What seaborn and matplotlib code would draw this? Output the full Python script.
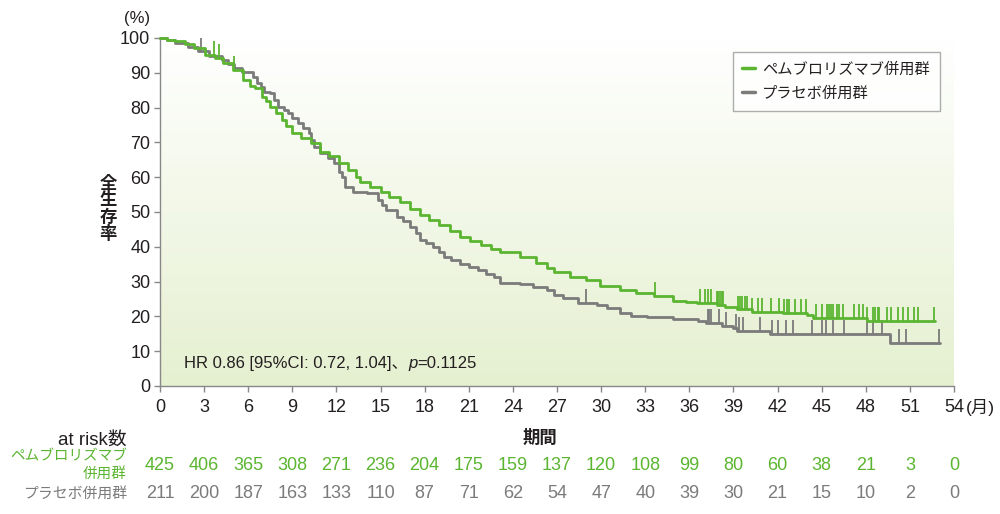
import numpy as np
import pandas as pd
import matplotlib
matplotlib.use("Agg")
import matplotlib.pyplot as plt
import seaborn as sns
from matplotlib.lines import Line2D
from matplotlib.colors import LinearSegmentedColormap
from matplotlib.transforms import blended_transform_factory

# ---------------- data ----------------
groups = ["ペムブロリズマブ併用群", "プラセボ併用群"]

pem_time = [0, 0.5, 1.0, 1.7, 2.3, 3.06, 3.74, 4.3, 4.97, 5.65, 6.1, 6.46, 6.94, 7.2, 7.48, 7.9,
            8.3, 8.6, 8.98, 9.6, 10.3, 10.9, 11.5, 12.2, 12.8, 13.3, 13.6, 14.3, 15.0, 15.6, 16.3,
            17.0, 17.7, 18.3, 19.0, 19.7, 20.4, 21.1, 21.8, 22.5, 23.1, 24.5, 25.6, 26.3, 26.8,
            27.9, 29.0, 29.9, 31.3, 32.4, 33.6, 34.9, 35.8, 36.5, 37.87, 38.44, 39.27, 40.25,
            42.4, 44.0, 44.44, 48.07, 52.7]
pem_surv = [100, 99.5, 99.0, 98.3, 97.0, 95.1, 94.2, 92.8, 90.8, 87.9, 86.2, 85.6, 83.0, 81.8, 80.2,
            78.5, 76.4, 74.8, 72.7, 71.3, 69.8, 67.3, 66.0, 64.0, 62.0, 60.1, 58.7, 57.3, 55.8,
            54.2, 53.0, 51.0, 49.1, 47.6, 46.3, 44.5, 42.9, 41.6, 40.5, 39.5, 38.6, 37.2, 35.3,
            34.0, 32.8, 31.4, 30.5, 28.7, 27.6, 26.6, 25.9, 24.5, 24.2, 23.9, 23.3, 22.6, 22.0,
            21.4, 20.9, 20.4, 19.6, 18.7, 18.7]

pbo_time = [0, 0.5, 1.0, 1.9, 2.6, 3.3, 4.2, 4.6, 5.0, 5.6, 6.3, 6.6, 6.85, 7.1, 7.5, 7.75, 8.0,
            8.4, 8.7, 9.0, 9.4, 9.75, 10.1, 10.3, 10.5, 10.9, 11.4, 11.8, 12.2, 12.4, 12.6, 13.1,
            14.1, 14.8, 15.1, 15.4, 16.1, 16.5, 17.0, 17.4, 17.7, 18.1, 18.6, 18.95, 19.3, 19.8,
            20.4, 21.0, 21.6, 22.2, 22.7, 23.1, 24.5, 25.4, 26.3, 26.8, 27.4, 28.4, 29.7, 30.4,
            31.3, 32.0, 33.1, 34.9, 36.6, 37.14, 38.19, 39.0, 39.23, 41.5, 49.66, 53.06]
pbo_surv = [100, 99.3, 98.5, 97.5, 96.4, 94.8, 93.7, 92.5, 91.4, 90.3, 88.9, 87.1, 85.9, 84.6, 84.2,
            82.3, 80.3, 79.3, 78.4, 77.0, 75.6, 74.0, 72.6, 70.8, 68.8, 67.0, 65.4, 64.0, 61.6,
            60.1, 57.3, 55.8, 55.4, 53.4, 52.0, 50.6, 48.7, 47.5, 45.8, 44.0, 42.0, 41.0, 40.0,
            38.6, 37.2, 36.2, 35.2, 34.3, 33.3, 32.3, 31.4, 29.7, 29.3, 28.5, 27.6, 26.1, 25.2,
            23.9, 23.3, 22.3, 21.1, 20.1, 19.7, 19.2, 18.7, 18.0, 17.2, 16.6, 15.8, 14.9, 12.3,
            12.3]

pem_cens = [3.67, 4.0, 5.0, 33.67, 36.73, 37.07, 37.3, 37.46, 37.87, 37.98, 38.1, 38.21, 38.32,
            39.3, 39.46, 39.61, 39.78, 39.91, 40.25, 40.64, 40.93, 41.54, 42.11, 42.45, 42.63,
            42.81, 43.2, 43.61, 43.95, 44.6, 45.01, 45.35, 45.51, 45.65, 45.8, 46.07, 46.21,
            46.48, 47.2, 47.55, 47.78, 48.07, 48.46, 48.64, 48.82, 48.93, 49.43, 49.73, 50.16,
            50.5, 50.84, 51.25, 51.52, 52.67]
pbo_cens = [2.8, 29.0, 37.26, 37.37, 37.48, 38.03, 38.48, 39.16, 39.41, 39.64, 40.82, 41.61,
            42.06, 42.59, 43.02, 44.33, 45.01, 45.29, 45.76, 46.55, 48.07, 48.48, 49.1, 50.27,
            50.75, 52.99]

xticks = list(range(0, 55, 3))
yticks = list(range(0, 101, 10))
pem_risk = [425, 406, 365, 308, 271, 236, 204, 175, 159, 137, 120, 108, 99, 80, 60, 38, 21, 3, 0]
pbo_risk = [211, 200, 187, 163, 133, 110, 87, 71, 62, 54, 47, 40, 39, 30, 21, 15, 10, 2, 0]

hr_text = "HR 0.86 [95%CI: 0.72, 1.04]、"
p_text = "=0.1125"

GREEN = "#5bb531"
GRAY = "#7b7b7b"
BLACK = "#231f20"

# ---------------- style ----------------
sns.set_style("ticks")
plt.rcParams["font.family"] = ["Liberation Sans", "Noto Sans CJK JP", "DejaVu Sans"]
plt.rcParams["axes.unicode_minus"] = False

fig = plt.figure(figsize=(10, 5.14), dpi=100)
ax = fig.add_axes([0.160, 1 - 386 / 514, 0.794, (386 - 38) / 514])

# background gradient
cmap = LinearSegmentedColormap.from_list("bg", ["#e5f0d0", "#ffffff"])
ax.imshow(np.linspace(0, 1, 256).reshape(-1, 1), cmap=cmap, extent=[0, 54, 0, 100],
          aspect="auto", origin="lower", zorder=0)

df = pd.concat([
    pd.DataFrame({"time": pem_time, "surv": pem_surv, "group": groups[0]}),
    pd.DataFrame({"time": pbo_time, "surv": pbo_surv, "group": groups[1]}),
])
sns.lineplot(data=df[df.group == groups[1]], x="time", y="surv", color=GRAY,
             drawstyle="steps-post", estimator=None, sort=False, linewidth=2.0,
             ax=ax, zorder=3, legend=False)
sns.lineplot(data=df[df.group == groups[0]], x="time", y="surv", color=GREEN,
             drawstyle="steps-post", estimator=None, sort=False, linewidth=2.0,
             ax=ax, zorder=4, legend=False)
for ln in ax.lines:
    ln.set_clip_on(False)


def step_val(times, survs, t):
    i = np.searchsorted(times, t, side="right") - 1
    return survs[max(i, 0)]


for cens, times, survs, col, z in [(pbo_cens, pbo_time, pbo_surv, GRAY, 3),
                                   (pem_cens, pem_time, pem_surv, GREEN, 4)]:
    ys = np.array([step_val(times, survs, c) for c in cens])
    ax.vlines(cens, ys, ys + 4.0, colors=col, linewidth=1.3, zorder=z)

ax.set_xlim(0, 54)
ax.set_ylim(0, 100)
ax.set_xticks(xticks)
ax.set_yticks(yticks)
ax.set_xticklabels([str(v) for v in xticks])
ax.set_yticklabels([str(v) for v in yticks])
ax.tick_params(axis="both", length=4, width=1.0, color="#888888", labelsize=13,
               labelcolor=BLACK, direction="out")
ax.tick_params(axis="x", pad=5)
ax.tick_params(axis="y", pad=3)
for s in ["top", "right"]:
    ax.spines[s].set_visible(False)
for s in ["left", "bottom"]:
    ax.spines[s].set_color("#888888")
    ax.spines[s].set_linewidth(1.0)
ax.set_xlabel("")
ax.set_ylabel("")

# legend
handles = [Line2D([], [], color=GREEN, lw=2.5), Line2D([], [], color=GRAY, lw=2.5)]
leg = ax.legend(handles, groups, loc="upper right", bbox_to_anchor=(940 / 1000, 1 - 52 / 514),
                bbox_transform=fig.transFigure, frameon=True, fancybox=False,
                handlelength=0.8, handletextpad=0.5, borderpad=0.65, labelspacing=0.65,
                fontsize=11, borderaxespad=0)
leg.get_frame().set_edgecolor("#999999")
leg.get_frame().set_linewidth(1.0)
for t in leg.get_texts():
    t.set_color(BLACK)

# axis labels
fig.text(108 / 1000, 1 - 209 / 514, "全\n生\n存\n率", ha="center", va="center",
         fontsize=12.5, fontweight="bold", color=BLACK, linespacing=1.0)
fig.text(137 / 1000, 1 - 18 / 514, "(%)", ha="center", va="center", fontsize=12, color=BLACK)
fig.text(540 / 1000, 1 - 437 / 514, "期間", ha="center", va="center", fontsize=12.5,
         fontweight="bold", color=BLACK)
fig.text(966 / 1000, 1 - 407 / 514, "(月)", ha="left", va="center", fontsize=12.5, color=BLACK)

# HR annotation
t1 = ax.text(1.65, 6.6, hr_text, ha="left", va="center", fontsize=12, color=BLACK)
t2 = ax.annotate("p", xy=(1, 0.5), xycoords=t1, xytext=(0, 0), textcoords="offset points",
                 ha="left", va="center", fontsize=12, style="italic", color=BLACK)
t3 = ax.annotate(p_text, xy=(1, 0.5), xycoords=t2, ha="left", va="center", fontsize=12,
                 color=BLACK)

# at-risk table
tr = blended_transform_factory(ax.transData, fig.transFigure)
fig.text(127 / 1000, 1 - 440 / 514, "at risk数", ha="right", va="center", fontsize=13.5,
         color=BLACK)
fig.text(127 / 1000, 1 - 465 / 514, "ペムブロリズマブ\n併用群", ha="right", va="center",
         multialignment="right", fontsize=10.5, color=GREEN, linespacing=1.3)
fig.text(127 / 1000, 1 - 494 / 514, "プラセボ併用群", ha="right", va="center", fontsize=10.7,
         color=GRAY)
for x, n in zip(xticks, pem_risk):
    ax.text(x, 1 - 466 / 514, str(n), transform=tr, ha="center", va="center",
            fontsize=13, color=GREEN)
for x, n in zip(xticks, pbo_risk):
    ax.text(x, 1 - 494 / 514, str(n), transform=tr, ha="center", va="center",
            fontsize=13, color=GRAY)

fig.savefig("out.png", dpi=100, facecolor="white")
